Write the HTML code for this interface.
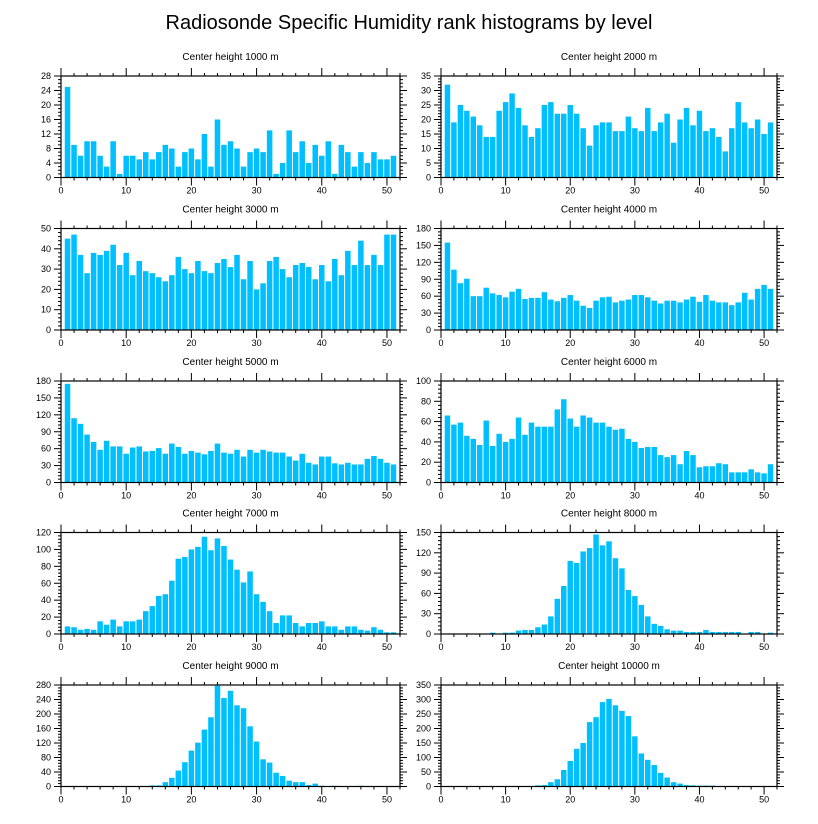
<!DOCTYPE html>
<html><head><meta charset="utf-8"><style>
body{margin:0;background:#fff;}
svg{display:block;font-family:"Liberation Sans",sans-serif;}
</style></head><body>
<svg id="fig" width="818" height="824" viewBox="0 0 818 824">
<text x="409" y="29" text-anchor="middle" font-size="20">Radiosonde Specific Humidity rank histograms by level</text>
</svg>
<script>
const titles = ["Center height 1000 m","Center height 2000 m","Center height 3000 m","Center height 4000 m","Center height 5000 m","Center height 6000 m","Center height 7000 m","Center height 8000 m","Center height 9000 m","Center height 10000 m"];
const yMax = [28,35,50,180,180,100,120,150,280,350];
const yStep = [4,5,10,30,30,20,20,30,40,50];
const yMinorCount = [4,5,5,5,5,5,5,5,5,5];
const xTicks = [0,10,20,30,40,50];
const h1000 = [25,9,6,10,10,6,3,10,1,6,6,5,7,5,7,9,8,3,7,8,5,12,3,16,9,10,8,3,7,8,7,13,1,4,13,7,10,4,9,6,10,1,9,7,3,7,4,7,5,5,6];
const h2000 = [32,19,25,23,21,18,14,14,23,26,29,24,18,14,17,25,26,22,22,25,22,17,11,18,19,19,16,16,21,17,16,24,16,19,22,12,20,24,18,23,16,17,14,9,17,26,19,17,20,15,19];
const h3000 = [45,47,37,28,38,37,39,42,32,38,27,34,29,28,26,24,27,36,30,28,34,29,28,33,35,31,37,25,34,20,23,34,36,30,26,32,33,31,25,32,24,35,27,39,32,44,32,37,32,47,47];
const h4000 = [155,107,83,91,60,60,75,65,62,58,68,73,55,57,57,67,54,51,57,62,52,43,39,52,58,59,49,52,54,62,62,58,52,47,52,52,49,54,59,50,62,52,49,49,44,49,66,54,73,80,73];
const h5000 = [175,114,104,85,72,58,74,64,64,51,62,64,55,56,61,51,69,63,51,56,53,50,56,69,53,51,58,46,58,53,58,55,53,53,46,39,51,35,32,46,46,34,32,35,32,32,42,47,42,35,32];
const h6000 = [66,57,59,46,43,37,61,36,48,40,43,64,47,59,55,55,55,72,82,63,55,66,64,59,59,55,52,53,43,40,34,35,35,27,25,27,18,31,27,15,16,16,19,18,10,10,10,13,10,9,18];
const h7000 = [9,8,5,6,5,15,11,17,9,15,15,17,27,33,45,47,63,89,91,100,103,115,99,113,104,88,76,61,74,47,38,27,13,22,22,13,9,13,13,15,9,9,5,9,9,5,4,8,5,2,2];
const h8000 = [0,0,0,0,0,0,0,2,0,2,2,5,6,6,10,14,26,52,71,108,105,122,127,147,131,137,112,97,65,56,43,26,15,12,7,5,5,3,3,3,6,3,3,3,3,3,0,3,3,0,2];
const h9000 = [0,0,0,0,0,0,0,0,0,0,0,0,0,3,3,12,24,44,67,99,121,157,191,278,244,264,224,216,166,124,75,66,38,29,16,12,12,4,8,2,0,2,0,0,0,2,0,0,0,0,0];
const h10000 = [0,0,0,0,0,0,0,0,0,0,0,0,0,2,4,5,15,25,57,88,130,150,222,239,291,302,280,261,243,173,114,92,74,47,31,15,10,5,4,3,3,3,0,1,2,0,0,0,0,0,0];
const series = [h1000,h2000,h3000,h4000,h5000,h6000,h7000,h8000,h9000,h10000];

const NS="http://www.w3.org/2000/svg";
const svg=document.getElementById('fig');
function mk(tag,attrs,parent){const e=document.createElementNS(NS,tag);for(const k in attrs)e.setAttribute(k,attrs[k]);parent.appendChild(e);return e;}
const colX=[61,441], pw=339, rowY=[76,228.5,381,532.5,685], ph=101.5, XMAX=52;
for(let p=0;p<10;p++){
  const c=p%2, r=Math.floor(p/2);
  const L=colX[c], T=rowY[r], R=L+pw-(c?3:0), B=T+ph;
  const sx=v=>L+(R-L)*v/XMAX, sy=v=>B-ph*v/yMax[p];
  const g=mk('g',{},svg);
  
  
  const t=mk('text',{x:(L+R)/2,y:T-16,'text-anchor':'middle','font-size':10},g);
  
  
  t.textContent=titles[p];
  const vals=series[p]; const bw=(R-L)/XMAX;
  vals.forEach((v,i)=>{
    if(v<=0)return;
    const x=i+1;
    const b=mk('rect',{x:sx(x)-bw/2+0.5,y:sy(v),width:bw-1,height:B-sy(v),fill:'#00bfff'},g);
    
    
  });
  const fr=mk('rect',{x:L,y:T,width:R-L,height:ph,fill:'none',stroke:'#000','stroke-width':1.2},g);
  
  
  for(let v=0;v<=XMAX;v+=2){
    const major=v%10===0, len=major?8:3, X=sx(v);
    mk('line',{x1:X,y1:B,x2:X,y2:B+len,stroke:'#000','stroke-width':1},g);
    mk('line',{x1:X,y1:T,x2:X,y2:T-len,stroke:'#000','stroke-width':1},g);
  }
  xTicks.forEach(v=>{
    const tl=mk('text',{x:sx(v),y:B+16,'text-anchor':'middle','font-size':9},g);
    
    
    tl.textContent=v;
  });
  const mstep=yStep[p]/yMinorCount[p];
  for(let k=0;k*mstep<=yMax[p]+1e-9;k++){
    const v=k*mstep, major=k%yMinorCount[p]===0, len=major?7:3, Y=sy(v);
    mk('line',{x1:L,y1:Y,x2:L-len,y2:Y,stroke:'#000','stroke-width':1},g);
    mk('line',{x1:R,y1:Y,x2:R+len,y2:Y,stroke:'#000','stroke-width':1},g);
    if(major){
      const yl=mk('text',{x:L-10,y:Y+3,'text-anchor':'end','font-size':9},g);
      
      
      yl.textContent=Math.round(v);
    }
  }
}
</script>
</body></html>
